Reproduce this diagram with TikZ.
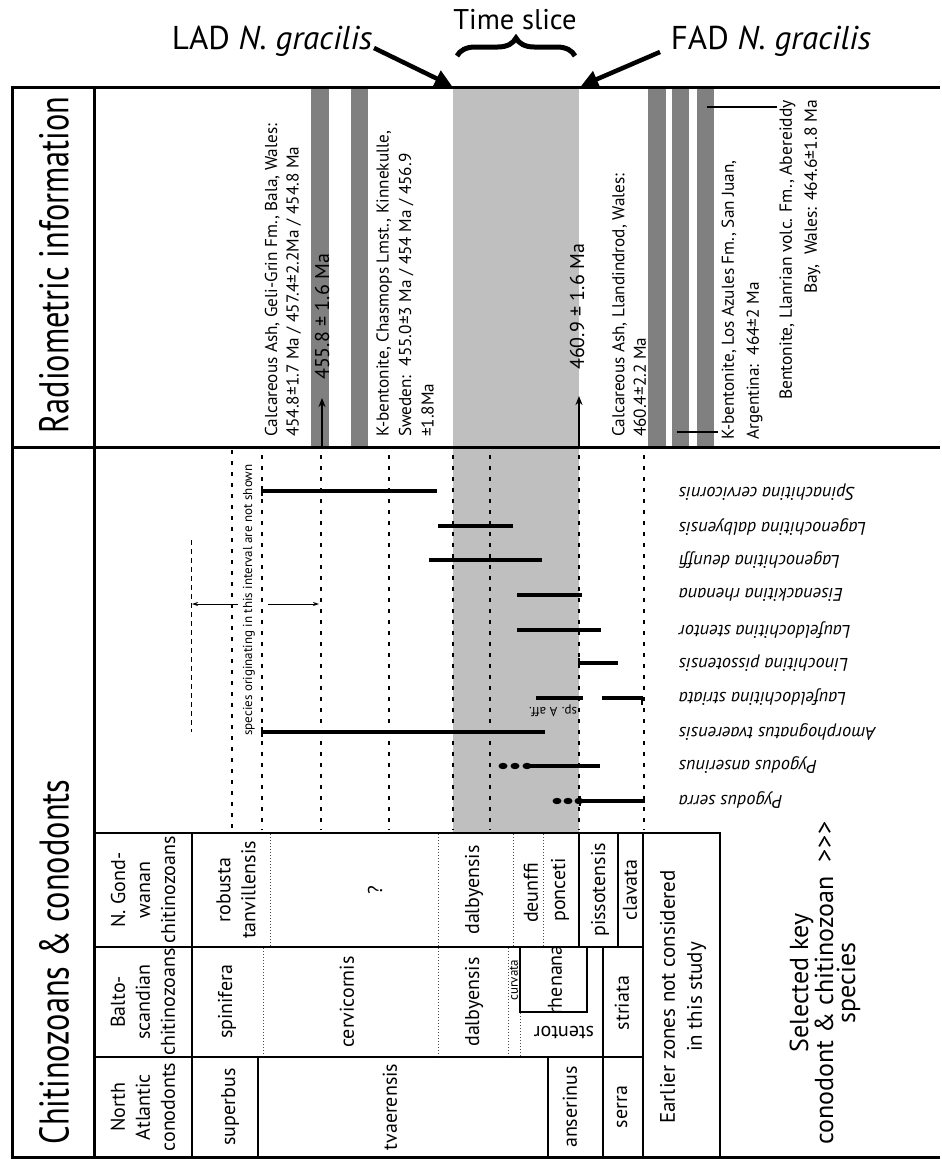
\documentclass[tikz,border=0pt]{standalone}
\usepackage{fontspec}
\setmainfont{PT Sans}
\newfontfamily\condf{PT Sans}[FakeStretch=0.78]
\usetikzlibrary{arrows.meta,decorations.pathreplacing}
\definecolor{slicegray}{gray}{0.75}
\definecolor{bargray}{gray}{0.5}
\tikzset{
  frameline/.style={line width=3pt},
  tline/.style={line width=2pt},
  thinl/.style={line width=1.2pt},
  zdot/.style={line width=1pt, dash pattern=on 1pt off 2pt, black!70},
  rdot/.style={line width=2.5pt, dash pattern=on 4pt off 7pt},
  rangebar/.style={line width=4pt},
  endtick/.style={line width=1.5pt},
  rtxt/.style={rotate=90, anchor=west, align=left, inner sep=0pt, font=\fontsize{17.2}{21.5}\selectfont},
  sptxt/.style={rotate=180, anchor=east, inner sep=0pt, font=\itshape\fontsize{18.3}{20}\selectfont},
  zonetxt/.style={rotate=90, align=center, inner sep=0pt, font=\fontsize{20}{25}\selectfont},
  bigtitle/.style={rotate=90, inner sep=0pt, font=\condf\fontsize{41.5}{44}\selectfont},
  toplabel/.style={inner sep=0pt, font=\fontsize{33}{33}\selectfont},
  bigarrow/.style={line width=4.5pt, -{Triangle[length=17pt,width=17pt]}},
  smallarrow/.style={line width=2pt, -{Stealth[length=9pt,width=7pt]}},
  thinarrow/.style={line width=0.8pt, -{Stealth[length=6pt,width=4pt]}}
}
\begin{document}
\begin{tikzpicture}[x=1pt,y=-1pt]
\useasboundingbox (0,0) rectangle (942,1159);
% fills
\fill[slicegray] (453,88) rectangle (579,833);
\foreach \a/\b in {311/329,351/368,648/666,672/689,697/714}
  \fill[bargray] (\a,88) rectangle (\b,446);
% borders
\draw[frameline] (12,87) -- (940,87);
\draw[frameline] (12,447) -- (940,447);
\draw[frameline] (12,1157) -- (940,1157);
\draw[frameline] (12,85.5) -- (12,1158.5);
\draw[frameline] (94,87) -- (94,1158.5);
% titles
\node[bigtitle] (radtitle) at (54,265) {Radiometric information};
\node[bigtitle] (chititle) at (54,962) {Chitinozoans \& conodonts};
% top labels
\node[toplabel] (lad) at (272,41) {LAD \textit{N. gracilis}};
\node[toplabel, font=\fontsize{28.5}{30}\selectfont] (ts) at (515,20) {Time slice};
\node[toplabel] (fad) at (771,41) {FAD \textit{N. gracilis}};
\coordinate (ladA) at (374,48);
\coordinate (fadA) at (660,52);
\coordinate (tsTL) at (452,86);
\coordinate (tsTR) at (581,86);
\draw[bigarrow] (ladA) -- (tsTL);
\draw[bigarrow] (fadA) -- (tsTR);
\coordinate (brL) at (457,56);
\coordinate (brR) at (575,56);
\draw[line width=5pt, decorate, decoration={brace, amplitude=18pt}] (brL) -- (brR);
% range-chart dotted lines
\foreach \x in {262,321,389,453,490,579,644}
  \draw[rdot] (\x,455) -- (\x,830);
\draw[rdot] (232,450) -- (232,830);
% radiometric arrows
\coordinate (a1s) at (322,446);
\coordinate (a1e) at (322,398);
\coordinate (a2s) at (579,446);
\coordinate (a2e) at (579,396);
\draw[smallarrow] (a1s) -- (a1e);
\draw[smallarrow] (a2s) -- (a2e);
% leaders
\coordinate (l1a) at (707,107); \coordinate (l1b) at (777,107);
\coordinate (l2a) at (677,432); \coordinate (l2b) at (718,432);
\draw[line width=2pt] (l1a) -- (l1b);
\draw[line width=2pt] (l2a) -- (l2b);
% radiometric texts
\node[rtxt] (r1) at (283,437) {Calcareous Ash, Geli-Grin Fm., Bala, Wales:\\454.8±1.7 Ma / 457.4±2.2Ma / 454.8 Ma};
\node[rtxt, font=\fontsize{20}{22}\selectfont] (r2) at (322,380) {455.8 ± 1.6 Ma};
\node[rtxt, font=\fontsize{17.2}{22.5}\selectfont] (r3) at (405,437) {K-bentonite, Chasmops Lmst., Kinnekulle,\\Sweden:\ \ 455.0±3 Ma / 454 Ma / 456.9\\±1.8Ma};
\node[rtxt, font=\fontsize{20}{22}\selectfont] (r4) at (577,370) {460.9 ± 1.6 Ma};
\node[rtxt] (r5) at (629,437) {Calcareous Ash, Llandindrod, Wales:\\460.4±2.2 Ma};
\node[rtxt, font=\fontsize{17.2}{25}\selectfont] (r6) at (742,440) {K-bentonite, Los Azules Fm., San Juan,\\Argentina:\ \ 464±2 Ma};
\node[rtxt, anchor=east, align=right, font=\fontsize{17.5}{25}\selectfont] (r7) at (800,100) {Bentonite, Llanrian volc. Fm., Abereiddy\\Bay,\ \ Wales: 464.6±1.8 Ma};
% species not shown note
\coordinate (dnA) at (191,540); \coordinate (dnB) at (191,732);
\draw[line width=0.8pt, dash pattern=on 5pt off 4pt] (dnA) -- (dnB);
\coordinate (n1a) at (238,604); \coordinate (n1b) at (192,604);
\coordinate (n2a) at (268,604); \coordinate (n2b) at (319,604);
\draw[thinarrow] (n1a) -- (n1b);
\draw[thinarrow] (n2a) -- (n2b);
\node[rotate=90, inner sep=0pt, font=\fontsize{13}{14}\selectfont] (note) at (249,600) {species originating in this interval are not shown};
% species ranges
\coordinate (s1a) at (262,491); \coordinate (s1b) at (437,491);
\coordinate (s2a) at (438,526); \coordinate (s2b) at (513,526);
\coordinate (s3a) at (429,560); \coordinate (s3b) at (542,560);
\coordinate (s4a) at (517,595); \coordinate (s4b) at (582,595);
\coordinate (s5a) at (517,630); \coordinate (s5b) at (601,630);
\coordinate (s6a) at (579,663); \coordinate (s6b) at (618,663);
\coordinate (s7a) at (536,698); \coordinate (s7b) at (583,698);
\coordinate (s7c) at (602,698); \coordinate (s7d) at (642,698);
\coordinate (s8a) at (262,732); \coordinate (s8b) at (545,732);
\coordinate (s9a) at (527,766); \coordinate (s9b) at (600,766);
\coordinate (s10a) at (580,801); \coordinate (s10b) at (645,801);
\foreach \p/\q in {s1a/s1b,s2a/s2b,s3a/s3b,s4a/s4b,s5a/s5b,s6a/s6b,s7a/s7b,s7c/s7d,s8a/s8b,s9a/s9b,s10a/s10b}
  \draw[rangebar] (\p) -- (\q);
\draw[endtick] (262,486) -- (262,496);
\draw[endtick] (262,727) -- (262,737);
\draw[endtick] (579,658) -- (579,668);
\draw[endtick] (642,696) -- (642,705);
\draw[endtick] (580,796) -- (580,806);
\foreach \x in {503,515,527} \fill (\x,766) ellipse (4.5pt and 3.2pt);
\foreach \x in {557,568,579} \fill (\x,801) ellipse (4.5pt and 3.2pt);
\node[rotate=180, inner sep=0pt, font=\fontsize{13}{14}\selectfont] (spA) at (553,711) {sp. A aff.};
% species names
\foreach \n/\y/\t in {sp1/492/Spinachitina cervicornis, sp2/527/Lagenochitina dalbyensis, sp3/560/Lagenochitina deunffi, sp4/595/Eisenackitina rhenana, sp5/630/Laufeldochitina stentor, sp6/663/Linochitina pissotensis, sp7/697/Laufeldochitina striata, sp8/732/Amorphognatus tvaerensis, sp9/765/Pygodus anserinus, sp10/800/Pygodus serra}
  \node[sptxt] (\n) at (679,\y) {\t};
% zone table
\draw[tline] (94,833) -- (720,833) -- (720,1157);
\draw[tline] (192,833) -- (192,1157);
\draw[tline] (94,947) -- (643,947);
\draw[tline] (94,1057) -- (643,1057);
\draw[tline] (643,833) -- (643,1157);
\draw[thinl] (579,833) -- (579,947);
\draw[thinl] (618,833) -- (618,947);
\draw[thinl] (603,947) -- (603,1157);
\draw[thinl] (258,1057) -- (258,1157);
\draw[thinl] (548,1057) -- (548,1157);
\draw[thinl] (520,947) -- (520,1012) -- (587,1012) -- (587,947);
\draw[zdot] (270,834) -- (270,946);
\draw[zdot] (438,834) -- (438,1056);
\draw[zdot] (513,834) -- (513,946);
\draw[zdot] (543,834) -- (543,946);
\draw[zdot] (263,948) -- (263,1056);
\draw[zdot] (508,948) -- (508,1056);
\draw[zdot] (520,1013) -- (520,1056);
% zone texts
\node[zonetxt] (h1) at (143,890) {N. Gond-\\wanan\\chitinozoans};
\node[zonetxt] (h2) at (143,1002) {Balto-\\scandian\\chitinozoans};
\node[zonetxt] (h3) at (143,1107) {North\\Atlantic\\conodonts};
\node[zonetxt] (z1) at (236,890) {robusta\\tanvillensis};
\node[zonetxt] (z2) at (375,890) {?};
\node[zonetxt] (z3) at (474,890) {dalbyensis};
\node[zonetxt] (z4) at (531,893) {deunffi};
\node[zonetxt] (z5) at (560,890) {ponceti};
\node[zonetxt] (z6) at (600,890) {pissotensis};
\node[zonetxt] (z7) at (630,890) {clavata};
\node[zonetxt] (z8) at (227,1002) {spinifera};
\node[zonetxt] (z9) at (347,1002) {cervicornis};
\node[zonetxt] (z10) at (474,1002) {dalbyensis};
\node[zonetxt, font=\fontsize{13}{14}\selectfont] (z11) at (514,980) {curvata};
\node[zonetxt] (z12) at (555,980) {rhenana};
\node[rotate=180, inner sep=0pt, font=\fontsize{20}{22}\selectfont] (z13) at (564,1033) {stentor};
\node[zonetxt] (z14) at (622,1003) {striata};
\node[zonetxt] (z15) at (230,1107) {superbus};
\node[zonetxt] (z16) at (390,1107) {tvaerensis};
\node[zonetxt] (z17) at (570,1107) {anserinus};
\node[zonetxt] (z18) at (622,1107) {serra};
\node[zonetxt, font=\fontsize{21}{27}\selectfont] (z19) at (683,997) {Earlier zones not considered\\in this study};
\node[zonetxt, font=\fontsize{26}{22}\selectfont] (sel) at (825,983) {Selected key\\conodont \& chitinozoan\ \ >\kern1pt>\kern1pt>\\species};
\end{tikzpicture}
\end{document}
